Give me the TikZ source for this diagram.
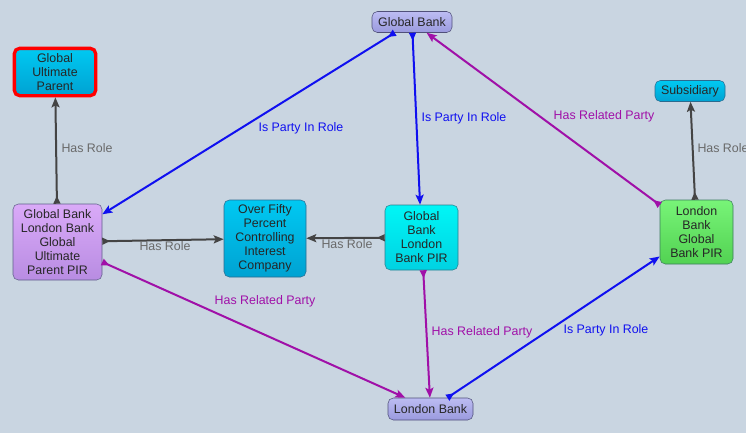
\documentclass[tikz,border=0pt]{standalone}
\usepackage{fontspec}
\setmainfont{Liberation Sans}
\usetikzlibrary{arrows.meta}

\definecolor{bgcol}{HTML}{C9D5E1}
\definecolor{rolegray}{HTML}{444444}
\definecolor{partyblue}{HTML}{1010F0}
\definecolor{relmag}{HTML}{A010A8}
% fuellfarben der konzepte
\definecolor{cyanline}{HTML}{2B6B8F}\definecolor{cyantop}{HTML}{00C9F2}\definecolor{cyanbot}{HTML}{00A2D2}
\definecolor{aqualine}{HTML}{2B7F8F}\definecolor{aquatop}{HTML}{00F6F6}\definecolor{aquabot}{HTML}{00D2E2}
\definecolor{greenline}{HTML}{3C7C5C}\definecolor{greentop}{HTML}{78F478}\definecolor{greenbot}{HTML}{52D252}
\definecolor{lilacline}{HTML}{50507A}\definecolor{lilactop}{HTML}{BCBCF2}\definecolor{lilacbot}{HTML}{9A9ADE}
\definecolor{plumline}{HTML}{60608A}\definecolor{plumtop}{HTML}{DAAAF8}\definecolor{plumbot}{HTML}{B88CE2}

\begin{document}
\begin{tikzpicture}[x=0.75pt,y=-0.75pt,
    concept/.style={draw=#1line, top color=#1top, bottom color=#1bot,
        rounded corners=4pt, align=center, text=black!85,
        font=\fontsize{9.3}{10.5}\selectfont, inner sep=1pt},
    link/.style={line width=1.5pt, draw=#1,
        {Triangle[reversed,length=6pt,width=5pt]}-{Stealth[length=7.5pt,width=6pt,inset=1.5pt]}},
    lbl/.style={font=\fontsize{9.3}{10.5}\selectfont, text=#1, inner sep=1pt},
]
    % hintergrund
    \fill[bgcol] (0,0) rectangle (746,433);
    \useasboundingbox (0,0) rectangle (746,433);

    % konzepte
    \node[concept=cyan, draw=red, line width=2.5pt, minimum width=61pt, minimum height=35.5pt]
        (gup) at (55,72) {Global\\Ultimate\\Parent};
    \node[concept=lilac, minimum width=60pt, minimum height=15.75pt] (gbank) at (412,22) {Global Bank};
    \node[concept=cyan, minimum width=52.5pt, minimum height=15.75pt] (subs) at (690,91) {Subsidiary};
    \node[concept=plum, minimum width=66.75pt, minimum height=57pt]
        (pirL) at (57.5,242) {Global Bank\\London Bank\\Global\\Ultimate\\Parent PIR};
    \node[concept=cyan, minimum width=61.5pt, minimum height=57.75pt]
        (ofp) at (265,238.5) {Over Fifty\\Percent\\Controlling\\Interest\\Company};
    \node[concept=aqua, minimum width=54.75pt, minimum height=48.75pt]
        (pirM) at (421.5,237.5) {Global\\Bank\\London\\Bank PIR};
    \node[concept=green, minimum width=54.75pt, minimum height=48pt]
        (pirR) at (696.5,232) {London\\Bank\\Global\\Bank PIR};
    \node[concept=lilac, minimum width=63.75pt, minimum height=16.5pt] (lbank) at (430.5,409) {London Bank};

    % verbindungen
    \draw[link=partyblue] (gbank) -- (pirL) node[lbl=partyblue] at (301,128) {Is Party In Role};
    \draw[link=partyblue] (gbank) -- (pirM) node[lbl=partyblue] at (464,118) {Is Party In Role};
    \draw[link=partyblue] (lbank) -- (pirR) node[lbl=partyblue] at (606,330) {Is Party In Role};

    \draw[link=relmag] (pirR) -- (gbank) node[lbl=relmag] at (604,116) {Has Related Party};
    \draw[link=relmag] (pirL) -- (lbank) node[lbl=relmag] at (265,301) {Has Related Party};
    \draw[link=relmag] (pirM) -- (lbank) node[lbl=relmag] at (482,332) {Has Related Party};

    \draw[link=rolegray] (pirL) -- (gup) node[lbl=rolegray!80] at (87,148) {Has Role};
    \draw[link=rolegray] (pirL) -- (ofp) node[lbl=rolegray!80] at (165,246) {Has Role};
    \draw[link=rolegray] (pirM) -- (ofp) node[lbl=rolegray!80] at (347,244) {Has Role};
    \draw[link=rolegray] (pirR) -- (subs) node[lbl=rolegray!80] at (723,148) {Has Role};
\end{tikzpicture}
\end{document}
